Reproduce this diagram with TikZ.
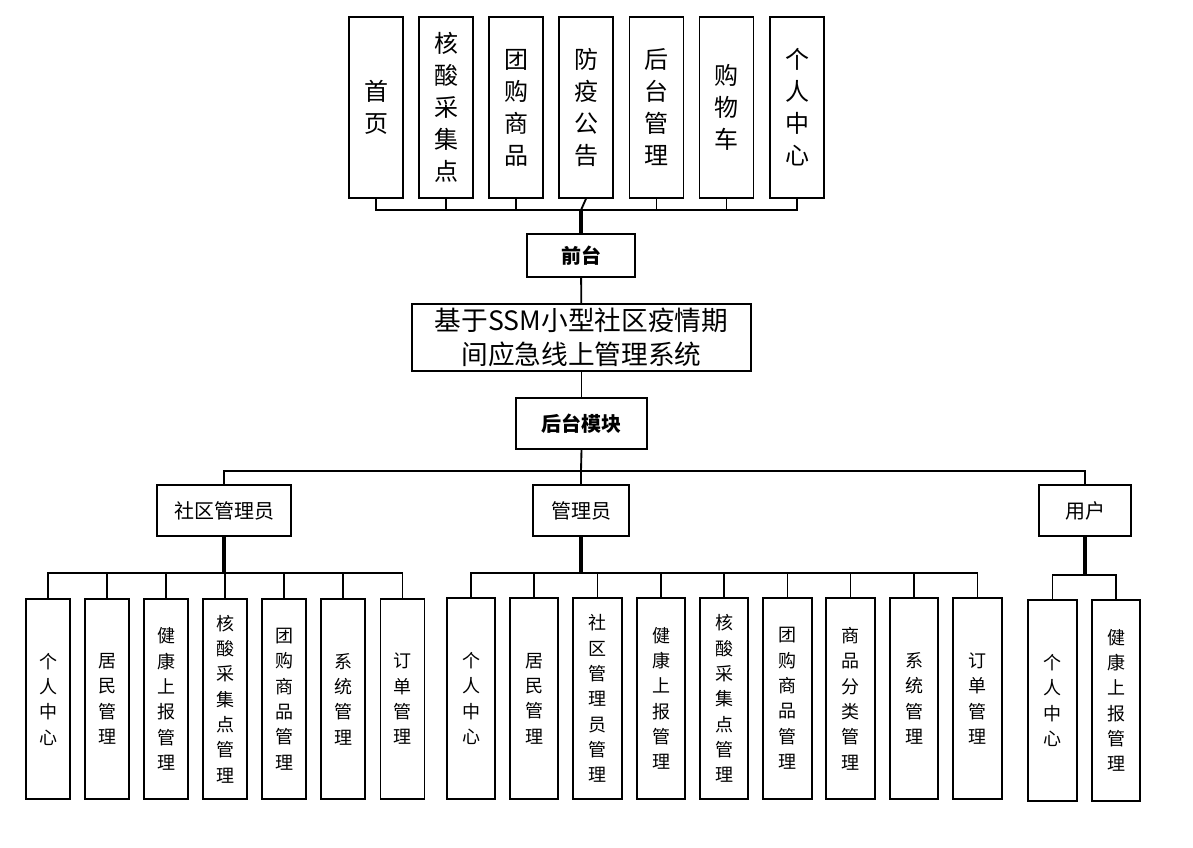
\documentclass[tikz,border=0pt]{standalone}
\usepackage{fontspec}
\setmainfont{Noto Sans CJK SC}
\usetikzlibrary{positioning}

\begin{document}
\begin{tikzpicture}[
  x=0.75pt, y=-0.75pt,
  box/.style     = {draw, line width=1.2pt, inner sep=0pt, align=center},
  topbox/.style  = {box, minimum width=40.5pt, minimum height=135.75pt,
                    font=\fontsize{18pt}{24pt}\selectfont},
  hubbox/.style  = {box, font=\fontsize{15pt}{18pt}\selectfont\bfseries},
  rolebox/.style = {box, minimum height=38.25pt,
                    font=\fontsize{15pt}{18pt}\selectfont},
  cleaf/.style   = {box, minimum width=33pt, minimum height=150pt,
                    font=\fontsize{13.5pt}{19pt}\selectfont},
  leaf/.style    = {box, minimum width=36.4pt, minimum height=150.75pt,
                    font=\fontsize{13.5pt}{19pt}\selectfont},
  link/.style    = {line width=1.4pt},
  stem/.style    = {line width=2.3pt}
]
\useasboundingbox (0,0) rectangle (1193,847);

%% ---- front-end pages ---------------------------------------------------
\node[topbox] (home)     at (376,107.5)   {首\\页};
\node[topbox] (testsite) at (446,107.5)   {核\\酸\\采\\集\\点};
\node[topbox] (groupbuy) at (516,107.5)   {团\\购\\商\\品};
\node[topbox] (notice)   at (586,107.5)   {防\\疫\\公\\告};
\node[topbox] (backend)  at (656.5,107.5) {后\\台\\管\\理};
\node[topbox] (cart)     at (726.5,107.5) {购\\物\\车};
\node[topbox] (profile)  at (797,107.5)   {个\\人\\中\\心};

\coordinate (jtop) at (581,210);
\foreach \n in {home,testsite,groupbuy,backend,cart,profile}
  \draw[link] (\n.south) |- (jtop);
\draw[link] (notice.south) -- (jtop);

%% ---- trunk: front -> system -> back ------------------------------------
\node[hubbox, minimum width=81pt, minimum height=32.25pt] (front) at (581,255.5) {前台};
\node[box, minimum width=254.25pt, minimum height=50.25pt,
      font=\fontsize{20pt}{25pt}\selectfont] (sys) at (581.5,337.5)
  {基于SSM小型社区疫情期\\间应急线上管理系统};
\node[hubbox, minimum width=98.25pt, minimum height=38.25pt] (back) at (581.5,423.5) {后台模块};

\draw[stem] (jtop) -- (front.north);
\draw[link] (front) -- (sys);
\draw[link] (sys) -- (back);

%% ---- three roles -------------------------------------------------------
\node[rolebox, minimum width=100.5pt] (cadmin) at (224,510.5)  {社区管理员};
\node[rolebox, minimum width=72pt]    (admin)  at (581,510.5)  {管理员};
\node[rolebox, minimum width=69pt]    (user)   at (1085,510.5) {用户};

\coordinate (jmid) at (581,471);
\draw[link] (back.south) -- (jmid);
\draw[link] (jmid) -| (cadmin.north);
\draw[link] (jmid) -| (user.north);
\draw[link] (jmid) -- (admin.north);

%% ---- community admin modules -------------------------------------------
\node[cleaf] (cprofile)  at (48,699)    {个\\人\\中\\心};
\node[cleaf] (cresident) at (107,699)   {居\\民\\管\\理};
\node[cleaf] (chealth)   at (166,699)   {健\\康\\上\\报\\管\\理};
\node[cleaf] (ctest)     at (225,699)   {核\\酸\\采\\集\\点\\管\\理};
\node[cleaf] (cgroup)    at (284,699)   {团\\购\\商\\品\\管\\理};
\node[cleaf] (csys)      at (343,699)   {系\\统\\管\\理};
\node[cleaf] (corder)    at (402.5,699) {订\\单\\管\\理};

\coordinate (jc) at (224,573);
\draw[stem] (cadmin.south) -- (jc);
\foreach \n in {cprofile,cresident,chealth,ctest,cgroup,csys,corder}
  \draw[link] (\n.north) |- (jc);

%% ---- admin modules -----------------------------------------------------
\node[leaf] (aprofile)  at (471,698.5)   {个\\人\\中\\心};
\node[leaf] (aresident) at (534,698.5)   {居\\民\\管\\理};
\node[leaf] (acadmin)   at (597.5,698.5) {社\\区\\管\\理\\员\\管\\理};
\node[leaf] (ahealth)   at (661,698.5)   {健\\康\\上\\报\\管\\理};
\node[leaf] (atest)     at (724,698.5)   {核\\酸\\采\\集\\点\\管\\理};
\node[leaf] (agroup)    at (787.5,698.5) {团\\购\\商\\品\\管\\理};
\node[leaf] (acat)      at (850.5,698.5) {商\\品\\分\\类\\管\\理};
\node[leaf] (asys)      at (914,698.5)   {系\\统\\管\\理};
\node[leaf] (aorder)    at (977.5,698.5) {订\\单\\管\\理};

\coordinate (ja) at (581,573);
\draw[stem] (admin.south) -- (ja);
\foreach \n in {aprofile,aresident,acadmin,ahealth,atest,agroup,acat,asys,aorder}
  \draw[link] (\n.north) |- (ja);

%% ---- user modules ------------------------------------------------------
\node[leaf] (uprofile) at (1052.5,700.5) {个\\人\\中\\心};
\node[leaf] (uhealth)  at (1116,700.5)   {健\\康\\上\\报\\管\\理};

\coordinate (ju) at (1085,575);
\draw[stem] (user.south) -- (ju);
\foreach \n in {uprofile,uhealth}
  \draw[link] (\n.north) |- (ju);

\end{tikzpicture}
\end{document}
